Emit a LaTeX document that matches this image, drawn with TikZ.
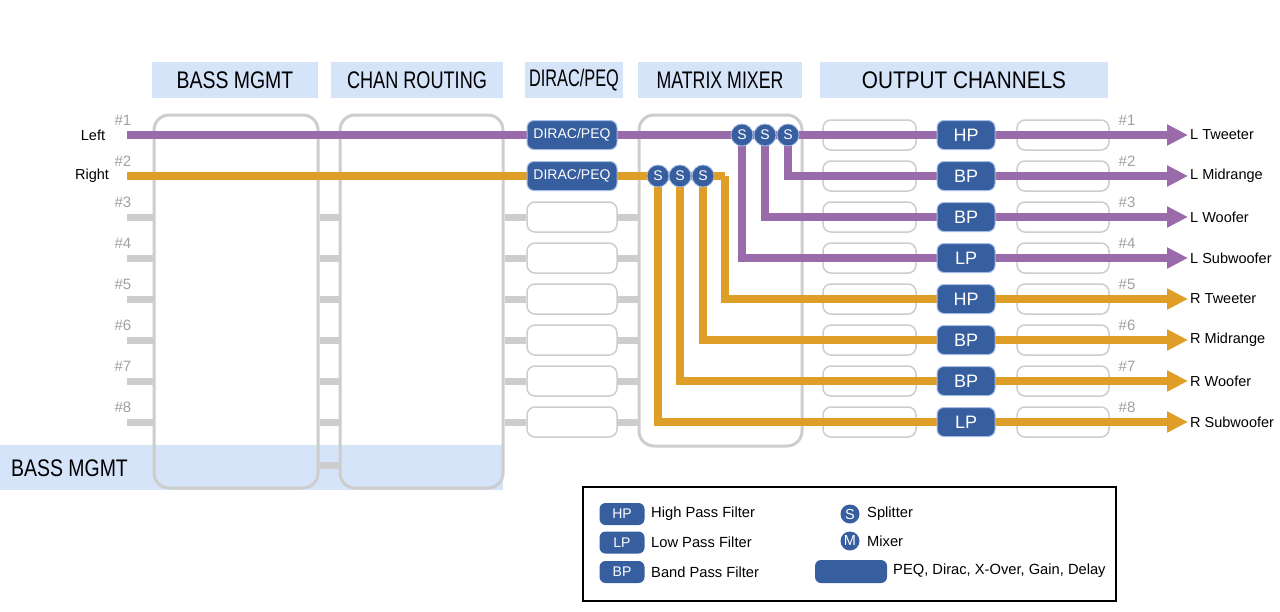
\documentclass[tikz,border=0pt]{standalone}
\usepackage{graphicx}
\usepackage{fontspec}
\setmainfont{Liberation Sans}
\usetikzlibrary{arrows.meta}
\definecolor{purp}{HTML}{9A6BAB}
\definecolor{oran}{HTML}{DE9E27}
\definecolor{fblue}{HTML}{375E9F}
\definecolor{fedge}{HTML}{A3BDE6}
\definecolor{hdr}{HTML}{D6E4FA}
\definecolor{gline}{HTML}{CDCDCD}
\definecolor{gnum}{HTML}{A0A0A0}
\pgfdeclarelayer{back}\pgfdeclarelayer{mid}\pgfsetlayers{back,mid,main}
\newcommand{\hsc}[2]{\scalebox{#1}[1]{#2}}
\begin{document}
\begin{tikzpicture}[x=1pt,y=-1pt,
  hdrbox/.style={fill=hdr,minimum height=36pt,inner sep=0pt,font=\fontsize{24}{26}\selectfont},
  bigbox/.style={draw=gline,line width=3pt,rounded corners=15pt,minimum height=373pt,inner sep=0pt},
  wbox/.style={draw=gline,line width=1.5pt,rounded corners=8pt,minimum height=30pt,inner sep=0pt},
  bbox/.style={fill=fblue,draw=fedge,line width=1pt,rounded corners=7pt,minimum height=29pt,inner sep=0pt,text=white},
  spl/.style={circle,fill=fblue,draw=fedge,line width=0.8pt,minimum size=22pt,inner sep=0pt,text=white,font=\fontsize{14}{16}\selectfont},
  stub/.style={draw=gline,line width=7pt},
  num/.style={text=gnum,inner sep=0pt,font=\fontsize{15}{17}\selectfont},
  lab/.style={inner sep=2pt,anchor=west,font=\fontsize{14.5}{16}\selectfont},
  sigP/.style={draw=purp,line width=7.5pt},
  sigO/.style={draw=oran,line width=7.5pt},
  tip/.style={-{Triangle[length=21pt,width=20pt]}},
  legtxt/.style={inner sep=0pt,anchor=west,font=\fontsize{14.7}{17}\selectfont},
  legbox/.style={fill=fblue,rounded corners=6pt,inner sep=0pt,text=white,font=\fontsize{14}{16}\selectfont},
  legcirc/.style={circle,fill=fblue,minimum size=19pt,inner sep=0pt,text=white,font=\fontsize{14.5}{16}\selectfont}
]
\useasboundingbox (0,0) rectangle (1280,611);

% ---------- background layer ----------
\begin{pgfonlayer}{back}
\node[hdrbox,minimum width=166pt] (h1) at (235,80) {\hsc{0.81}{BASS MGMT}};
\node[hdrbox,minimum width=172pt] (h2) at (417,80) {\hsc{0.755}{CHAN ROUTING}};
\node[hdrbox,minimum width=98pt] (h3) at (574,80) {\hsc{0.68}{DIRAC/PEQ}};
\node[hdrbox,minimum width=164pt] (h4) at (720,80) {\hsc{0.74}{MATRIX MIXER}};
\node[hdrbox,minimum width=288pt] (h5) at (964,80) {\hsc{0.865}{OUTPUT CHANNELS}};

\node[fill=hdr,minimum width=503pt,minimum height=45pt,inner sep=0pt] (band) at (251.5,467.5) {};
\node[anchor=west,inner sep=0pt,font=\fontsize{24}{26}\selectfont] (bandtxt) at (11,468) {\hsc{0.81}{BASS MGMT}};

\node[bigbox,minimum width=164pt] (bass) at (236,301.5) {};
\node[bigbox,minimum width=163pt] (chan) at (421.5,301.5) {};
\node[bigbox,minimum width=163pt,minimum height=331pt] (mat) at (720.5,280.5) {};

\foreach \r/\y in {3/217,4/258,5/299,6/340,7/381,8/422}{
  \node[wbox,minimum width=90pt] (d\r) at (572,\y) {};
  \coordinate (s\r) at (127,\y);
  \draw[stub] (s\r) -- (bass.west|-s\r);
  \draw[stub] (bass.east|-s\r) -- (chan.west|-s\r);
  \draw[stub] (chan.east|-s\r) -- (d\r.west);
  \draw[stub] (d\r.east) -- (mat.west|-s\r);
}
\coordinate (sb) at (0,465);
\draw[stub] (bass.east|-sb) -- (chan.west|-sb);

\foreach \r/\y in {1/135,2/176,3/217,4/258,5/299,6/340,7/381,8/422}{
  \node[wbox,minimum width=93pt] (ol\r) at (869.5,\y) {};
  \node[wbox,minimum width=92pt] (or\r) at (1063,\y) {};
  \node[num] (nl\r) at (123,\y-14.5) {\#\r};
  \node[num] (nr\r) at (1127,\y-14.5) {\#\r};
}
\end{pgfonlayer}

% ---------- main nodes ----------
\node[inner sep=0pt,font=\fontsize{14.5}{16}\selectfont] (left) at (93,135) {Left};
\node[inner sep=0pt,font=\fontsize{14.5}{16}\selectfont] (right) at (92,176) {Right};
\coordinate (a1) at (127,135);
\coordinate (a2) at (127,176);

\node[bbox,minimum width=90pt,font=\fontsize{14}{16}\selectfont] (d1) at (572,135) {DIRAC/PEQ};
\node[bbox,minimum width=90pt,font=\fontsize{14}{16}\selectfont] (d2) at (572,176) {DIRAC/PEQ};

\node[spl] (sL1) at (742,135) {S};
\node[spl] (sL2) at (765,135) {S};
\node[spl] (sL3) at (788,135) {S};
\node[spl] (sR1) at (658,176) {S};
\node[spl] (sR2) at (680,176) {S};
\node[spl] (sR3) at (703,176) {S};
\coordinate (k5) at (725,176);

\foreach \r/\y/\t in {1/135/HP,2/176/BP,3/217/BP,4/258/LP,5/299/HP,6/340/BP,7/381/BP,8/422/LP}{
  \node[bbox,minimum width=58pt,font=\fontsize{18}{20}\selectfont] (f\r) at (966,\y) {\t};
}
\node[lab] (lab1) at (1188,135) {L Tweeter};
\node[lab] (lab2) at (1188,176) {L Midrange};
\node[lab] (lab3) at (1188,217) {L Woofer};
\node[lab] (lab4) at (1188,258) {L Subwoofer};
\node[lab] (lab5) at (1188,299) {R Tweeter};
\node[lab] (lab6) at (1188,340) {R Midrange};
\node[lab] (lab7) at (1188,381) {R Woofer};
\node[lab] (lab8) at (1188,422) {R Subwoofer};

% ---------- signal lines ----------
\begin{pgfonlayer}{mid}
\draw[sigP,tip] (a1) -- (d1.center) -- (sL1.center) -- (sL2.center) -- (sL3.center) -- (f1.center) -- (lab1.west);
\draw[sigP,tip] (sL3.center) |- (f2.center) -- (lab2.west);
\draw[sigP,tip] (sL2.center) |- (f3.center) -- (lab3.west);
\draw[sigP,tip] (sL1.center) |- (f4.center) -- (lab4.west);
\draw[sigO] (a2) -- (d2.center) -- (sR1.center) -- (sR2.center) -- (sR3.center) -- (k5);
\draw[sigO,tip] (k5) |- (f5.center) -- (lab5.west);
\draw[sigO,tip] (sR3.center) |- (f6.center) -- (lab6.west);
\draw[sigO,tip] (sR2.center) |- (f7.center) -- (lab7.west);
\draw[sigO,tip] (sR1.center) |- (f8.center) -- (lab8.west);
\end{pgfonlayer}

% ---------- legend ----------
\node[draw=black,line width=1.5pt,minimum width=533pt,minimum height=114pt,inner sep=0pt] (legend) at (849.5,544) {};
\node[legbox,minimum width=45pt,minimum height=22pt] (lhp) at (622,514) {HP};
\node[legbox,minimum width=45pt,minimum height=22pt] (llp) at (622,542.5) {LP};
\node[legbox,minimum width=45pt,minimum height=22pt] (lbp) at (622,572) {BP};
\node[legtxt] (thp) at (651,514) {High Pass Filter};
\node[legtxt] (tlp) at (651,542.5) {Low Pass Filter};
\node[legtxt] (tbp) at (651,572) {Band Pass Filter};
\node[legcirc] (ls) at (850,514) {S};
\node[legcirc] (lm) at (850,541) {M};
\node[legtxt] (ts) at (867,514) {Splitter};
\node[legtxt] (tm) at (867,541) {Mixer};
\node[legbox,minimum width=72pt,minimum height=23pt] (lpeq) at (851,571.5) {};
\node[legtxt] (tpeq) at (893,571) {PEQ, Dirac, X-Over, Gain, Delay};
\end{tikzpicture}
\end{document}
